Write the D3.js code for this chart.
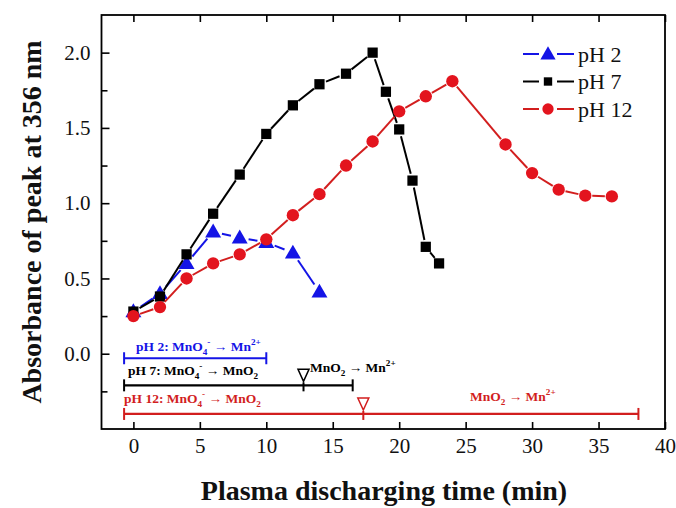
<!DOCTYPE html>
<html>
<head>
<meta charset="utf-8">
<script src="https://cdn.jsdelivr.net/npm/d3@7"></script>
<style>
  html, body { margin: 0; padding: 0; background: #fff; }
  svg { display: block; font-family: "Liberation Serif", "Times New Roman", serif; }
</style>
</head>
<body>
<svg id="chart" width="676" height="508"></svg>
<script>
// Absorbance at 356 nm vs. plasma discharging time, three pH conditions
const timePH2 = [0, 2, 4, 6, 8, 10, 12, 14];
const absPH2  = [0.28, 0.40, 0.60, 0.81, 0.77, 0.74, 0.67, 0.41];

const timePH7 = [0, 2, 4, 6, 8, 10, 12, 14, 16, 18, 19, 20, 21, 22, 23];
const absPH7  = [0.28, 0.38, 0.66, 0.93, 1.19, 1.46, 1.65, 1.79, 1.86, 2.00, 1.74, 1.49, 1.15, 0.71, 0.60];

const timePH12 = [0, 2, 4, 6, 8, 10, 12, 14, 16, 18, 20, 22, 24, 28, 30, 32, 34, 36];
const absPH12  = [0.25, 0.31, 0.50, 0.60, 0.66, 0.76, 0.92, 1.06, 1.25, 1.41, 1.61, 1.71, 1.81, 1.39, 1.20, 1.09, 1.05, 1.045];

const seriesNames = ["pH 2", "pH 7", "pH 12"];

const xTicks = [0, 5, 10, 15, 20, 25, 30, 35, 40];
const yTicks = [0.0, 0.5, 1.0, 1.5, 2.0];
const yMinorTicks = [-0.25, 0.25, 0.75, 1.25, 1.75];

// Reaction-stage bars drawn along the bottom of the plot
const stageStart = [-0.7, -0.7, -0.7];
const stageEnd   = [10, 16.5, 38];
const stageLevel = [-0.03, -0.21, -0.40];
const stageTurn  = [null, 12.8, 17.3];

const W = 676, H = 508;
const svg = d3.select("#chart");

const x = d3.scaleLinear().domain([-2.4, 40]).range([101.5, 665]);
const y = d3.scaleLinear().domain([-0.5, 2.25]).range([429, 15]);

const colors = { blue: "#1414e6", black: "#000000", red: "#e3141e", redLine: "#d21e1e" };

const series = [
  { name: seriesNames[0], t: timePH2,  v: absPH2,  color: colors.blue,  line: colors.blue,    shape: "triangle", gap: 9 },
  { name: seriesNames[1], t: timePH7,  v: absPH7,  color: colors.black, line: colors.black,   shape: "square",   gap: 7 },
  { name: seriesNames[2], t: timePH12, v: absPH12, color: colors.red,   line: colors.redLine, shape: "circle",   gap: 7 }
];

const symbolOf = {
  triangle: d3.symbol().type(d3.symbolTriangle).size(110),
  square:   d3.symbol().type(d3.symbolSquare).size(105),
  circle:   d3.symbol().type(d3.symbolCircle).size(120)
};

// Axes with inward ticks
const gx = svg.append("g").attr("transform", `translate(0,${y(-0.5)})`)
  .call(d3.axisBottom(x).tickValues(xTicks).tickSize(-7).tickPadding(9).tickFormat(d3.format("d")));
const gxTop = svg.append("g").attr("transform", `translate(0,${y(2.25)})`)
  .call(d3.axisTop(x).tickValues(xTicks).tickSize(-7).tickFormat(""));
const gy = svg.append("g").attr("transform", `translate(${x(-2.4)},0)`)
  .call(d3.axisLeft(y).tickValues(yTicks).tickSize(-8).tickPadding(11).tickFormat(d3.format(".1f")));
const gyMinor = svg.append("g").attr("transform", `translate(${x(-2.4)},0)`)
  .call(d3.axisLeft(y).tickValues(yMinorTicks).tickSize(-6).tickFormat(""));

[gx, gxTop, gy, gyMinor].forEach(g => {
  g.select(".domain").remove();
  g.selectAll(".tick line").attr("stroke", "#000").attr("stroke-width", 1.6);
  g.selectAll("text").attr("font-family", "Liberation Serif, serif").attr("font-size", 21).attr("fill", "#111");
});

// Plot frame
svg.append("rect")
  .attr("x", x(-2.4)).attr("y", y(2.25))
  .attr("width", x(40) - x(-2.4)).attr("height", y(-0.5) - y(2.25))
  .attr("fill", "none").attr("stroke", "#000").attr("stroke-width", 1.8);

// Data lines, with small gaps around each marker
series.forEach(s => {
  const pts = s.t.map((t, i) => [x(t), y(s.v[i])]);
  const g = svg.append("g");
  for (let i = 0; i < pts.length - 1; i++) {
    const [x1, y1] = pts[i], [x2, y2] = pts[i + 1];
    const dx = x2 - x1, dy = y2 - y1, len = Math.hypot(dx, dy);
    if (len <= 2 * s.gap) continue;
    const ux = dx / len, uy = dy / len;
    g.append("line")
      .attr("x1", x1 + ux * s.gap).attr("y1", y1 + uy * s.gap)
      .attr("x2", x2 - ux * s.gap).attr("y2", y2 - uy * s.gap)
      .attr("stroke", s.line).attr("stroke-width", 2);
  }
  g.selectAll("path.mk").data(pts).join("path")
    .attr("class", "mk")
    .attr("transform", d => `translate(${d[0]},${d[1] + (s.shape === "triangle" ? 1 : 0)})`)
    .attr("d", symbolOf[s.shape]())
    .attr("fill", s.color);
});

// Legend
const legend = svg.append("g");
series.forEach((s, i) => {
  const ly = 54 + i * 27.5;
  legend.append("line").attr("x1", 523).attr("x2", 539).attr("y1", ly).attr("y2", ly)
    .attr("stroke", s.line).attr("stroke-width", 2);
  legend.append("line").attr("x1", 557).attr("x2", 574).attr("y1", ly).attr("y2", ly)
    .attr("stroke", s.line).attr("stroke-width", 2);
  legend.append("path").attr("transform", `translate(548,${ly + (s.shape === "triangle" ? 1 : 0)})`)
    .attr("d", d3.symbol().type(s.shape === "triangle" ? d3.symbolTriangle : s.shape === "square" ? d3.symbolSquare : d3.symbolCircle)
      .size(s.shape === "triangle" ? 100 : s.shape === "square" ? 70 : 100)())
    .attr("fill", s.color);
  legend.append("text").attr("x", 578).attr("y", ly + 7.5)
    .attr("font-size", 22).attr("fill", "#111").text(s.name);
});

// Rich text helper: parts of [text, "sub"|"sup"|null]
function richText(sel, parts, size) {
  let shift = 0;
  parts.forEach(([t, kind]) => {
    const target = kind === "sub" ? 4 : kind === "sup" ? -6 : 0;
    sel.append("tspan")
      .attr("dy", target - shift)
      .attr("font-size", kind ? size * 0.68 : size)
      .text(t);
    shift = target;
  });
}

const stageColors = [colors.blue, colors.black, colors.redLine];
const stageLabels = [
  [["pH 2: MnO", null], ["4", "sub"], ["-", "sup"], [" \u2192 Mn", null], ["2+", "sup"]],
  [["pH 7: MnO", null], ["4", "sub"], ["-", "sup"], [" \u2192 MnO", null], ["2", "sub"]],
  [["pH 12: MnO", null], ["4", "sub"], ["-", "sup"], [" \u2192 MnO", null], ["2", "sub"]]
];
const secondLabel = [["MnO", null], ["2", "sub"], [" \u2192 Mn", null], ["2+", "sup"]];
const labelX = [136, 128, 124];
const labelLift = [7, 10, 11];
const secondX = [null, 310, 470];

const stages = svg.append("g");
stageStart.forEach((st, i) => {
  const c = stageColors[i];
  const by = y(stageLevel[i]);
  const g = stages.append("g");
  g.append("line").attr("x1", x(st)).attr("x2", x(stageEnd[i])).attr("y1", by).attr("y2", by)
    .attr("stroke", c).attr("stroke-width", 2.2);
  [st, stageEnd[i]].forEach(v => {
    g.append("line").attr("x1", x(v)).attr("x2", x(v)).attr("y1", by - 6).attr("y2", by + 6)
      .attr("stroke", c).attr("stroke-width", 2);
  });
  if (stageTurn[i] !== null) {
    const tx = x(stageTurn[i]);
    g.append("line").attr("x1", tx).attr("x2", tx).attr("y1", by - 3).attr("y2", by + 6)
      .attr("stroke", c).attr("stroke-width", 2);
    g.append("path")
      .attr("d", `M${tx - 5.5},${by - 16} L${tx + 5.5},${by - 16} L${tx},${by - 4} Z`)
      .attr("fill", "#fff").attr("stroke", c).attr("stroke-width", 1.5);
    const t2 = g.append("text").attr("x", secondX[i]).attr("y", by - 13)
      .attr("font-weight", "bold").attr("fill", c);
    richText(t2, secondLabel, 13.5);
  }
  const t = g.append("text").attr("x", labelX[i]).attr("y", by - labelLift[i])
    .attr("font-weight", "bold").attr("fill", c);
  richText(t, stageLabels[i], 13.5);
});

// Axis titles
svg.append("text").attr("x", 384).attr("y", 500).attr("text-anchor", "middle")
  .attr("font-size", 28).attr("font-weight", "bold").attr("fill", "#111")
  .text("Plasma discharging time (min)");
svg.append("text").attr("transform", "translate(41,222) rotate(-90)").attr("text-anchor", "middle")
  .attr("font-size", 28).attr("font-weight", "bold").attr("fill", "#111")
  .text("Absorbance of peak at 356 nm");
</script>
</body>
</html>
